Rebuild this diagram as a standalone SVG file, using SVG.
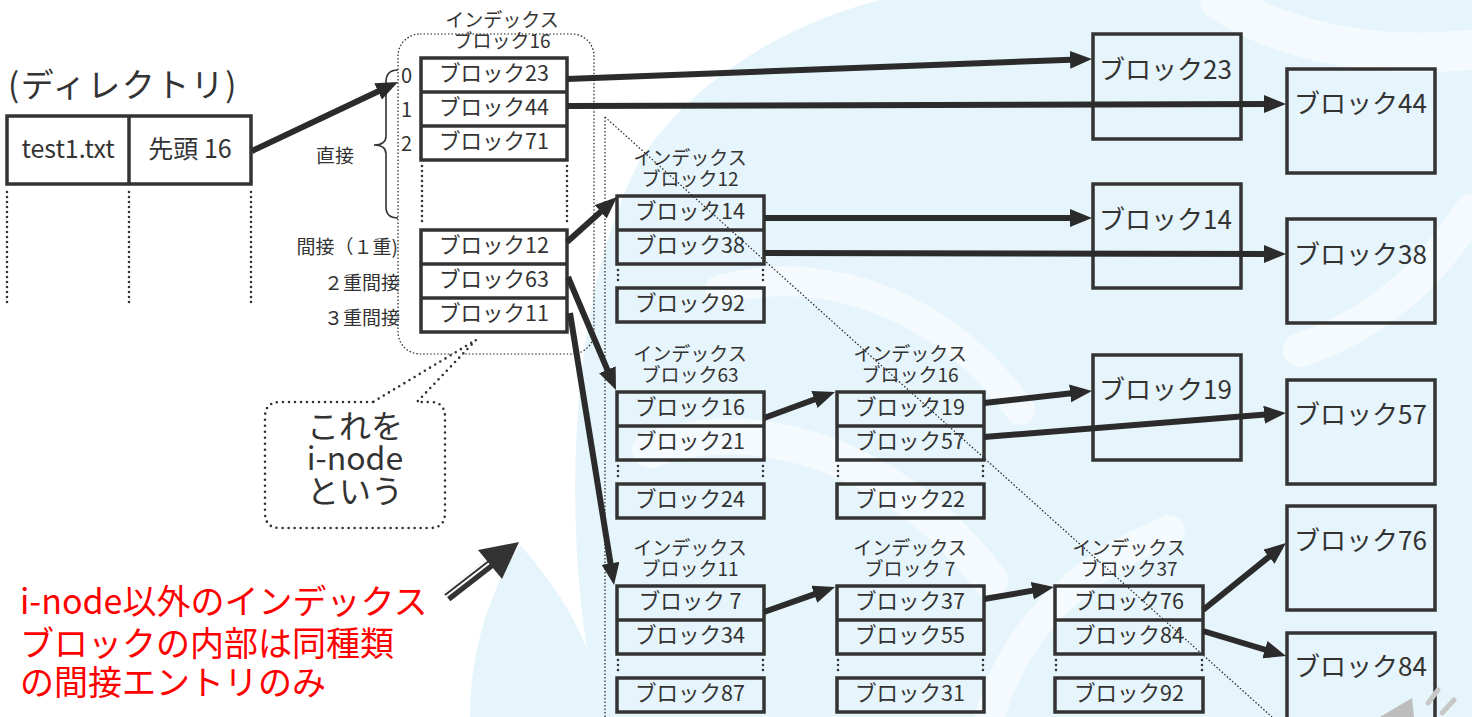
<svg xmlns="http://www.w3.org/2000/svg" width="1472" height="717" viewBox="0 0 1472 717">
<defs>
<style>
.box{fill:none;stroke:#333;stroke-width:3.5}
.dot{fill:none;stroke:#333;stroke-width:2.6;stroke-dasharray:0 5;stroke-linecap:round}
.fine{fill:none;stroke:#222;stroke-width:1.2;stroke-dasharray:1.5 2}
.t{font-family:"Noto Sans CJK JP","Noto Sans",sans-serif;fill:#333}
.row{font-size:21.5px;text-anchor:middle}
.ttl{font-size:19px;text-anchor:middle}
.big{font-size:26px}
.lbl{font-size:19px}
.conn{stroke:#2b2b2b;stroke-width:6;fill:none;marker-end:url(#ah)}
.bg{fill:#e6f4fb}
.sw{fill:none;stroke:#fff;stroke-linecap:round;opacity:.55}
</style>
<marker id="ah" markerUnits="userSpaceOnUse" markerWidth="24" markerHeight="20" refX="8" refY="9" orient="auto">
<path d="M0,0 L22,9 L0,18 z" fill="#2b2b2b"/>
</marker>
</defs>
<rect width="1472" height="717" fill="#fff"/>
<g id="background">
<path class="bg" d="M600,717 C560,550 565,300 640,160 C700,70 800,20 880,0 L1472,0 L1472,717 Z"/>
<path class="bg" d="M470,717 C470,650 490,590 520,545 C560,590 600,650 600,717 Z"/>
<path class="sw" stroke-width="36" d="M650,450 C760,410 900,460 990,580"/>
<path class="sw" stroke-width="30" d="M720,290 C830,260 950,310 1020,410"/>
<path class="sw" stroke-width="34" d="M1300,350 C1390,320 1440,260 1472,210"/>
<path class="sw" stroke-width="30" d="M990,717 C1010,640 1070,570 1170,530"/>
<path class="sw" stroke-width="40" d="M1220,0 C1280,40 1370,60 1472,50"/>
</g>

<g id="directory">
<text class="t" x="8" y="97" font-size="33" letter-spacing="1.5">(ディレクトリ)</text>
<rect class="box" x="7" y="116" width="244" height="68"/>
<line class="box" x1="129" y1="116" x2="129" y2="184"/>
<text class="t" x="68" y="158" font-size="25" text-anchor="middle">test1.txt</text>
<text class="t" x="190" y="158" font-size="25" text-anchor="middle">先頭 16</text>
<line class="dot" x1="7" y1="192" x2="7" y2="307"/>
<line class="dot" x1="129" y1="192" x2="129" y2="307"/>
<line class="dot" x1="251" y1="192" x2="251" y2="307"/>
</g>

<g id="inode16">
<rect class="fine" x="398" y="34" width="196" height="320" rx="22"/>
<text class="t ttl" x="502" y="27">インデックス</text>
<text class="t ttl" x="502" y="48">ブロック16</text>
<rect class="box" x="421" y="58" width="146" height="102"/>
<line class="box" x1="421" y1="92" x2="567" y2="92"/>
<line class="box" x1="421" y1="126" x2="567" y2="126"/>
<line class="dot" x1="422" y1="166" x2="422" y2="226"/>
<line class="dot" x1="567" y1="166" x2="567" y2="226"/>
<rect class="box" x="421" y="230" width="146" height="102"/>
<line class="box" x1="421" y1="264" x2="567" y2="264"/>
<line class="box" x1="421" y1="298" x2="567" y2="298"/>
<text class="t row" x="494" y="81">ブロック23</text>
<text class="t row" x="494" y="115">ブロック44</text>
<text class="t row" x="494" y="149">ブロック71</text>
<text class="t row" x="494" y="253">ブロック12</text>
<text class="t row" x="494" y="287">ブロック63</text>
<text class="t row" x="494" y="321">ブロック11</text>
<text class="t" x="401" y="83" font-size="20">0</text>
<text class="t" x="401" y="117" font-size="20">1</text>
<text class="t" x="401" y="151" font-size="20">2</text>
<path d="M398,70 Q386,70 386,82 L386,136 Q386,145 374,145 Q386,145 386,154 L386,207 Q386,218 398,218" fill="none" stroke="#333" stroke-width="1.6"/>
<text class="t lbl" x="316" y="163">直接</text>
<text class="t lbl" x="398" y="254" text-anchor="end">間接（１重)</text>
<text class="t lbl" x="400" y="290" text-anchor="end">２重間接</text>
<text class="t lbl" x="400" y="325" text-anchor="end">３重間接</text>
</g>

<g id="callout">
<path d="M373,402 L280,402 Q265,402 265,417 L265,513 Q265,528 280,528 L430,528 Q445,528 445,513 L445,417 Q445,402 430,402 L417,402 L476,340 Z" fill="#fff" stroke="#333" stroke-width="2.6" stroke-dasharray="0 6" stroke-linecap="round"/>
<text class="t" x="355" y="438" font-size="32" text-anchor="middle">これを</text>
<text class="t" x="355" y="470" font-size="32" text-anchor="middle">i-node</text>
<text class="t" x="355" y="503" font-size="32" text-anchor="middle">という</text>
</g>

<g id="note">
<line x1="447" y1="597" x2="492" y2="562" stroke="#333" stroke-width="11"/>
<line x1="445" y1="595" x2="494" y2="557" stroke="#fff" stroke-width="6"/>
<line x1="445" y1="595" x2="494" y2="557" stroke="#333" stroke-width="2"/>
<path d="M519,542 L478,550 L502,579 Z" fill="#333"/>
<text x="20" y="614" font-family="'Noto Sans CJK JP','Noto Sans',sans-serif" font-size="34" fill="#ff0000">i-node以外のインデックス</text>
<text x="20" y="656" font-family="'Noto Sans CJK JP','Noto Sans',sans-serif" font-size="34" fill="#ff0000">ブロックの内部は同種類</text>
<text x="20" y="695" font-family="'Noto Sans CJK JP','Noto Sans',sans-serif" font-size="34" fill="#ff0000">の間接エントリのみ</text>
</g>

<g id="guides">
<line class="fine" x1="605" y1="117" x2="605" y2="717"/>
<line class="fine" x1="605" y1="117" x2="1272" y2="717"/>
</g>

<g id="index12">
<text class="t ttl" x="690" y="165">インデックス</text>
<text class="t ttl" x="690" y="186">ブロック12</text>
<rect class="box" x="617" y="196" width="147" height="68"/>
<line class="box" x1="617" y1="230" x2="764" y2="230"/>
<line class="dot" x1="618" y1="270" x2="618" y2="284"/>
<line class="dot" x1="763" y1="270" x2="763" y2="284"/>
<rect class="box" x="617" y="288" width="147" height="34"/>
<text class="t row" x="690" y="219">ブロック14</text>
<text class="t row" x="690" y="253">ブロック38</text>
<text class="t row" x="690" y="311">ブロック92</text>
</g>

<g id="index63">
<text class="t ttl" x="690" y="361">インデックス</text>
<text class="t ttl" x="690" y="382">ブロック63</text>
<rect class="box" x="617" y="392" width="147" height="68"/>
<line class="box" x1="617" y1="426" x2="764" y2="426"/>
<line class="dot" x1="618" y1="466" x2="618" y2="480"/>
<line class="dot" x1="763" y1="466" x2="763" y2="480"/>
<rect class="box" x="617" y="484" width="147" height="34"/>
<text class="t row" x="690" y="415">ブロック16</text>
<text class="t row" x="690" y="449">ブロック21</text>
<text class="t row" x="690" y="507">ブロック24</text>
</g>

<g id="index16b">
<text class="t ttl" x="910" y="361">インデックス</text>
<text class="t ttl" x="910" y="382">ブロック16</text>
<rect class="box" x="837" y="392" width="147" height="68"/>
<line class="box" x1="837" y1="426" x2="984" y2="426"/>
<line class="dot" x1="838" y1="466" x2="838" y2="480"/>
<line class="dot" x1="983" y1="466" x2="983" y2="480"/>
<rect class="box" x="837" y="484" width="147" height="34"/>
<text class="t row" x="910" y="415">ブロック19</text>
<text class="t row" x="910" y="449">ブロック57</text>
<text class="t row" x="910" y="507">ブロック22</text>
</g>

<g id="index11">
<text class="t ttl" x="690" y="555">インデックス</text>
<text class="t ttl" x="690" y="576">ブロック11</text>
<rect class="box" x="617" y="586" width="147" height="68"/>
<line class="box" x1="617" y1="620" x2="764" y2="620"/>
<line class="dot" x1="618" y1="660" x2="618" y2="674"/>
<line class="dot" x1="763" y1="660" x2="763" y2="674"/>
<rect class="box" x="617" y="678" width="147" height="34"/>
<text class="t row" x="690" y="609">ブロック 7</text>
<text class="t row" x="690" y="643">ブロック34</text>
<text class="t row" x="690" y="701">ブロック87</text>
</g>

<g id="index7">
<text class="t ttl" x="910" y="555">インデックス</text>
<text class="t ttl" x="910" y="576">ブロック 7</text>
<rect class="box" x="837" y="586" width="147" height="68"/>
<line class="box" x1="837" y1="620" x2="984" y2="620"/>
<line class="dot" x1="838" y1="660" x2="838" y2="674"/>
<line class="dot" x1="983" y1="660" x2="983" y2="674"/>
<rect class="box" x="837" y="678" width="147" height="34"/>
<text class="t row" x="910" y="609">ブロック37</text>
<text class="t row" x="910" y="643">ブロック55</text>
<text class="t row" x="910" y="701">ブロック31</text>
</g>

<g id="index37">
<text class="t ttl" x="1129" y="555">インデックス</text>
<text class="t ttl" x="1129" y="576">ブロック37</text>
<rect class="box" x="1055" y="586" width="148" height="68"/>
<line class="box" x1="1055" y1="620" x2="1203" y2="620"/>
<line class="dot" x1="1056" y1="660" x2="1056" y2="674"/>
<line class="dot" x1="1202" y1="660" x2="1202" y2="674"/>
<rect class="box" x="1055" y="678" width="148" height="34"/>
<text class="t row" x="1129" y="609">ブロック76</text>
<text class="t row" x="1129" y="643">ブロック84</text>
<text class="t row" x="1129" y="701">ブロック92</text>
</g>

<g id="block23"><rect class="box" x="1093" y="34" width="148" height="105"/><text class="t big" x="1099" y="79">ブロック23</text></g>
<g id="block44"><rect class="box" x="1287" y="69" width="148" height="104"/><text class="t big" x="1294" y="113">ブロック44</text></g>
<g id="block14"><rect class="box" x="1093" y="184" width="148" height="104"/><text class="t big" x="1099" y="229">ブロック14</text></g>
<g id="block38"><rect class="box" x="1287" y="219" width="148" height="104"/><text class="t big" x="1294" y="264">ブロック38</text></g>
<g id="block19"><rect class="box" x="1093" y="355" width="148" height="105"/><text class="t big" x="1099" y="399">ブロック19</text></g>
<g id="block57"><rect class="box" x="1287" y="380" width="148" height="104"/><text class="t big" x="1294" y="424">ブロック57</text></g>
<g id="block76"><rect class="box" x="1287" y="506" width="148" height="104"/><text class="t big" x="1294" y="550">ブロック76</text></g>
<g id="block84"><rect class="box" x="1287" y="633" width="148" height="104"/><text class="t big" x="1294" y="676">ブロック84</text></g>

<g id="connectors">
<line class="conn" x1="252" y1="151" x2="385.3" y2="88"/>
<line class="conn" x1="567" y1="79" x2="1078" y2="59.5"/>
<line class="conn" x1="567" y1="106" x2="1272" y2="104"/>
<line class="conn" x1="567" y1="242" x2="606.6" y2="206.4"/>
<line class="conn" x1="764" y1="218" x2="1078" y2="218"/>
<line class="conn" x1="764" y1="253" x2="1272" y2="254"/>
<line class="conn" x1="568" y1="277" x2="610.5" y2="377.1"/>
<line class="conn" x1="570" y1="313" x2="611.8" y2="571.2"/>
<line class="conn" x1="764" y1="418" x2="821.9" y2="396.8"/>
<line class="conn" x1="984" y1="403" x2="1078.1" y2="392.5"/>
<line class="conn" x1="984" y1="437" x2="1272" y2="414.1"/>
<line class="conn" x1="764" y1="612" x2="821.8" y2="591.6"/>
<line class="conn" x1="984" y1="599" x2="1040.2" y2="589.4"/>
<line class="conn" x1="1203" y1="610" x2="1275.1" y2="551.8"/>
<line class="conn" x1="1203" y1="631" x2="1272.6" y2="652"/>
</g>

<g id="speaker">
<path d="M1380,717 L1412,698 L1414,717 Z" fill="#bdbdbd"/>
<line x1="1428" y1="703" x2="1438" y2="690" stroke="#c8c8c8" stroke-width="5" stroke-linecap="round"/>
<line x1="1442" y1="713" x2="1454" y2="700" stroke="#c8c8c8" stroke-width="5" stroke-linecap="round"/>
</g>
</svg>
